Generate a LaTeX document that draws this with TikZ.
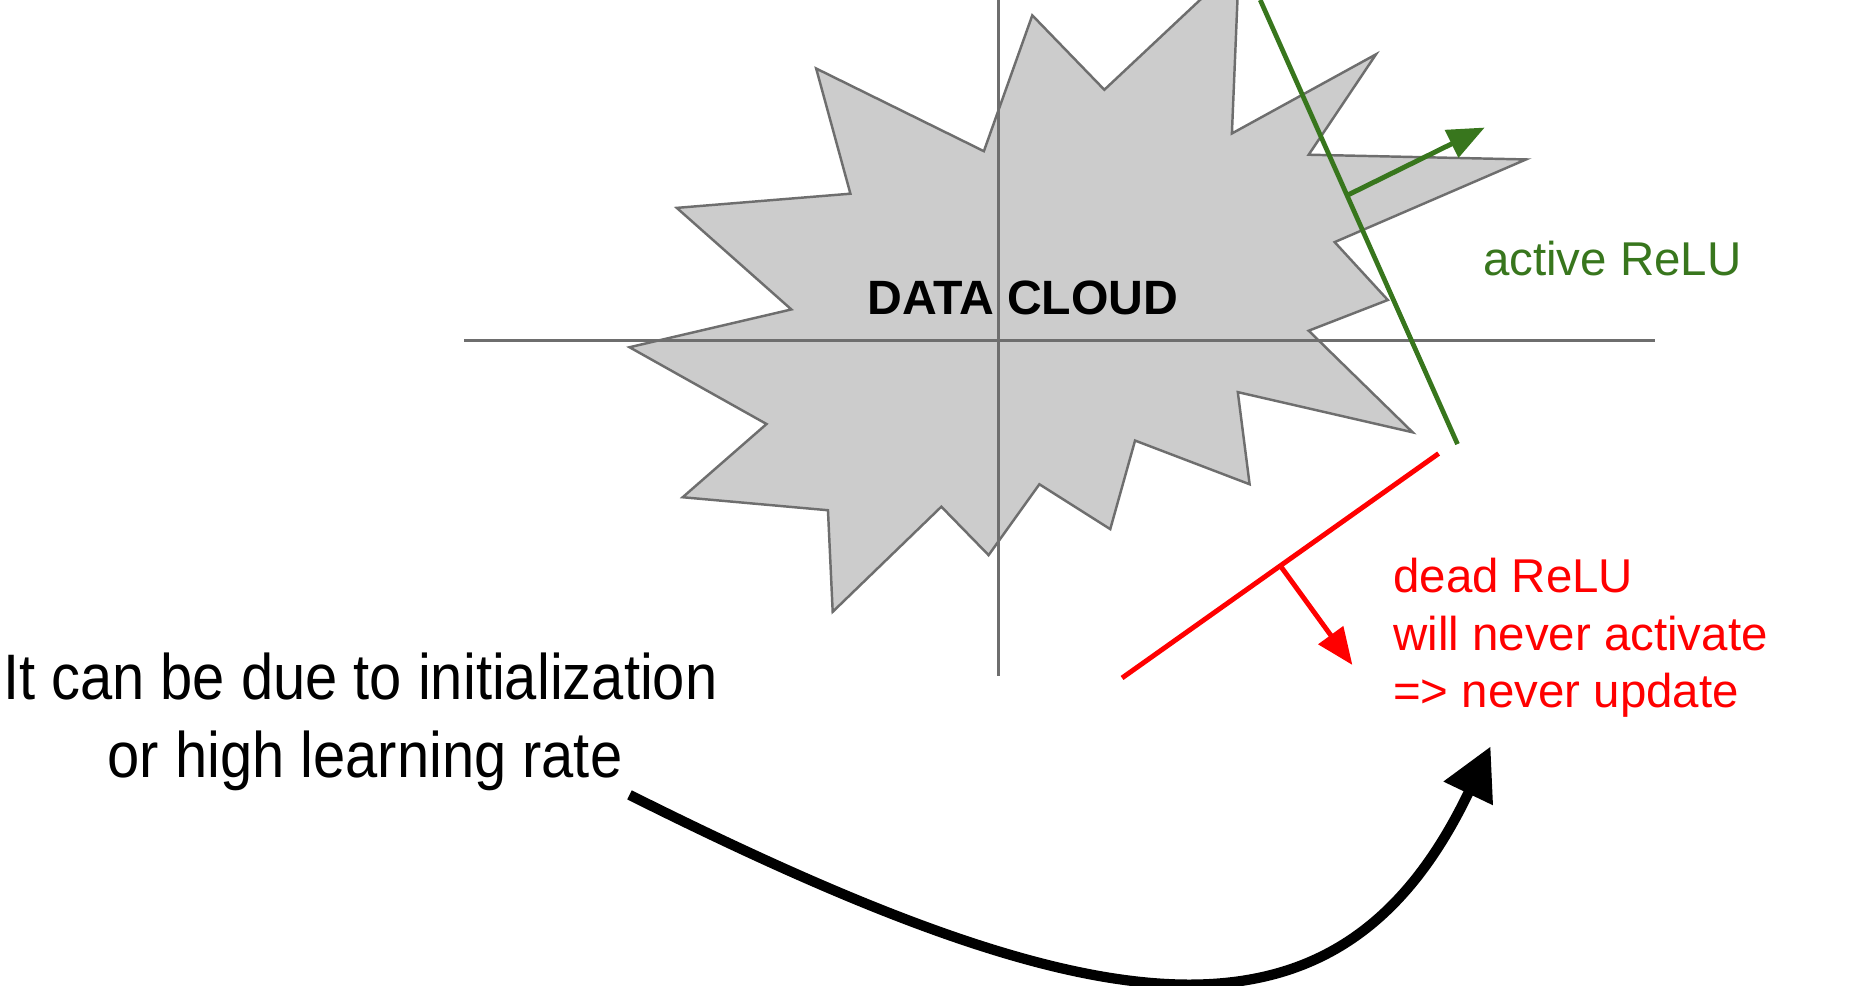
\documentclass[tikz,border=0pt]{standalone}
\usepackage{fontspec}
\setmainfont{Liberation Sans}
\newfontfamily\notefont[FakeStretch=0.9]{Liberation Sans}
\usetikzlibrary{arrows.meta,calc}

\definecolor{cloudgray}{HTML}{CCCCCC}
\definecolor{axisgray}{HTML}{6E6E6E}
\definecolor{relugreen}{HTML}{38761D}
\definecolor{relured}{HTML}{FF0000}

\tikzset{
    axisline/.style={axisgray, line width=0.85pt},
    cloudshape/.style={draw=axisgray, fill=cloudgray, line width=0.7pt},
    normalarrow/.style={-{Triangle[length=10.5pt,width=8.5pt]}, line width=1.4pt},
    labeltext/.style={font=\fontsize{13.5pt}{16pt}\selectfont, inner sep=0pt},
    notetext/.style={font=\notefont\fontsize{18.3pt}{22pt}\selectfont, inner sep=0pt},
}

\begin{document}
\begin{tikzpicture}[x=0.01181cm, y=-0.01181cm]

    \clip (0,0) rectangle (1568,834);

    % draw data cloud
    \draw[cloudshape] (691,58) -- (833,128) -- (874,13) -- (935,76) -- (1049,-31)
        -- (1043,113) -- (1165,46) -- (1108,131) -- (1292,135) -- (1130,205)
        -- (1175,254) -- (1108,280) -- (1196,366) -- (1048,332) -- (1058,410)
        -- (961,373) -- (940,448) -- (880,410) -- (837,470) -- (797,429)
        -- (705,518) -- (701,432) -- (578,421) -- (649,359) -- (533,294)
        -- (670,262) -- (573,176) -- (720,164) -- cycle;

    % draw axes
    \draw[axisline] (393,288) -- (1401,288);
    \draw[axisline] (845,0) -- (845,572);

    \node[labeltext, font=\bfseries\fontsize{13.7pt}{16pt}\selectfont, anchor=base] (cloudlabel) at (866,266) {DATA CLOUD};

    % active relu
    \coordinate (actA) at (1067,0);
    \coordinate (actB) at (1234,376);
    \coordinate (actTip) at (1257,108);
    \draw[relugreen, line width=1.35pt] (actA) -- (actB);
    \draw[normalarrow, relugreen] ($(actA)!0.44!(actB)$) -- (actTip);
    \node[labeltext, text=relugreen, anchor=base west] (activelabel) at (1255,233) {active ReLU};

    % dead relu
    \coordinate (deadA) at (950,574);
    \coordinate (deadB) at (1218,384);
    \coordinate (deadTip) at (1145,563);
    \draw[relured, line width=1.4pt] (deadA) -- (deadB);
    \draw[normalarrow, relured] ($(deadA)!0.5!(deadB)$) -- (deadTip);
    \node[labeltext, text=relured, anchor=base west] (deadlabel) at (1179,502) {dead ReLU};
    \node[labeltext, text=relured, anchor=base west] (neverlabel) at (1179,551) {will never activate};
    \node[labeltext, text=relured, anchor=base west] (updatelabel) at (1179,599) {=> never update};

    % add note
    \node[notetext, anchor=base] (noteA) at (305,592) {It can be due to initialization};
    \node[notetext, anchor=base] (noteB) at (309,658) {or high learning rate};

    \coordinate (curveStart) at (533,673);
    \coordinate (curveEnd) at (1262,632);
    \draw[-{Triangle[length=14.8pt,width=14.8pt]}, line width=2.9pt] (curveStart)
        .. controls (933,873) and (1133,902) .. (curveEnd);

\end{tikzpicture}
\end{document}
